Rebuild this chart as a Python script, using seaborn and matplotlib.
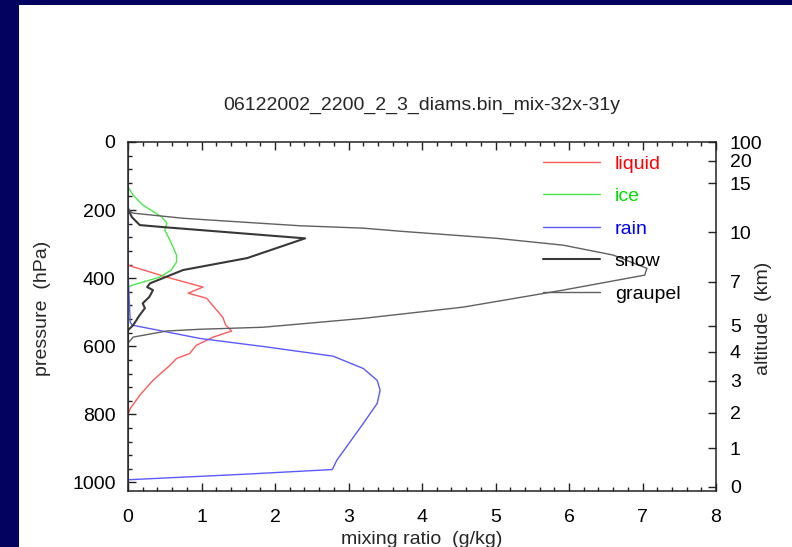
import numpy as np
import pandas as pd
import matplotlib
matplotlib.use("Agg")
import matplotlib.pyplot as plt
from matplotlib.patches import Rectangle
from matplotlib.ticker import MultipleLocator
import seaborn as sns

# pressure (hPa) / mixing ratio (g/kg) profiles
liquid_p = [0, 362, 397, 426, 444, 459, 515, 538, 555, 573, 597, 621, 636, 656, 700, 744, 783, 800, 1000]
liquid_q = [0, 0, 0.53, 1.02, 0.82, 1.07, 1.29, 1.33, 1.41, 1.16, 0.93, 0.84, 0.66, 0.57, 0.34, 0.16, 0.03, 0, 0]

ice_p = [0, 132, 156, 185, 220, 238, 259, 288, 332, 353, 376, 397, 420, 426, 1000]
ice_q = [0, 0, 0.07, 0.20, 0.46, 0.53, 0.50, 0.57, 0.66, 0.66, 0.59, 0.43, 0.07, 0, 0]

rain_p = [0, 380, 530, 538, 577, 602, 629, 665, 700, 729, 768, 827, 935, 962, 976, 992, 1000]
rain_q = [0, 0.0, 0.03, 0.06, 0.98, 1.89, 2.79, 3.20, 3.39, 3.43, 3.39, 3.20, 2.84, 2.78, 1.56, 0, 0]

snow_p = [0, 194, 220, 244, 250, 283, 341, 376, 415, 426, 435, 455, 474, 488, 508, 538, 553, 1000]
snow_q = [0, 0, 0.05, 0.16, 0.48, 2.41, 1.62, 0.75, 0.30, 0.26, 0.34, 0.29, 0.20, 0.23, 0.16, 0.07, 0, 0]

graupel_p = [0, 200, 209, 224, 233, 246, 253, 262, 283, 303, 332, 371, 391, 435, 485, 518, 544, 550, 555, 573, 591, 1000]
graupel_q = [0, 0, 0.07, 0.75, 1.39, 2.34, 3.20, 3.70, 5.02, 5.92, 6.60, 7.06, 7.03, 5.92, 4.56, 3.20, 1.84, 0.98, 0.53, 0.07, 0, 0]

species = ["liquid", "ice", "rain", "snow", "graupel"]
line_colors = ["#ff5a5a", "#4ae84a", "#5a5aff", "#383838", "#606060"]
line_widths = [1.0, 1.0, 1.0, 1.5, 1.0]
text_colors = ["#ff0000", "#00e000", "#0000ff", "black", "black"]

alt_ticks = [0, 1, 2, 3, 4, 5, 7, 10, 15, 20, 100]


def std_pressure(h_km):
    h = h_km * 1000.0
    if h <= 11000:
        return 1013.25 * (1 - 2.25577e-5 * h) ** 5.25588
    return 226.32 * np.exp(-(h - 11000) / 6341.6)


frames = []
for name, p, q in zip(species,
                      [liquid_p, ice_p, rain_p, snow_p, graupel_p],
                      [liquid_q, ice_q, rain_q, snow_q, graupel_q]):
    frames.append(pd.DataFrame({"q": q, "p": p, "species": name}))

sns.set_style("ticks")
plt.rcParams["font.family"] = ["Liberation Sans", "DejaVu Sans"]
plt.rcParams["font.size"] = 14

fig = plt.figure(figsize=(7.92, 5.47), dpi=100)
fig.patch.set_facecolor("#03035f")
fig.patches.append(Rectangle((19 / 792, 0), 1, 542 / 547, transform=fig.transFigure,
                             facecolor="white", edgecolor="none", zorder=-5))

ax = fig.add_axes([128 / 792, 1 - 491 / 547, 588 / 792, 349 / 547])
ax.set_facecolor("white")

for df, c, lw in zip(frames, line_colors, line_widths):
    sns.lineplot(data=df, x="q", y="p", sort=False, estimator=None, color=c,
                 linewidth=lw, label=df["species"].iloc[0], ax=ax)

ax.set_xlim(0, 8)
ax.set_ylim(1025, 0)
ax.xaxis.set_major_locator(MultipleLocator(1))
ax.xaxis.set_minor_locator(MultipleLocator(0.2))
ax.yaxis.set_major_locator(MultipleLocator(200))
ax.yaxis.set_minor_locator(MultipleLocator(40))
ax.tick_params(axis="x", which="both", direction="in", top=True, bottom=True, pad=13, colors="#222222", labelcolor="black")
ax.tick_params(axis="y", which="both", direction="in", left=True, right=False, pad=9, colors="#222222", labelcolor="black")
ax.tick_params(which="major", length=6, width=1)
ax.tick_params(which="minor", length=3, width=1)
for s in ax.spines.values():
    s.set_color("#222222")
    s.set_linewidth(1.1)

ax.set_xlabel("mixing ratio  (g/kg)")
ax.xaxis.set_label_coords(0.5, -0.14)
ax.xaxis.label.set_va("center")
ax.set_ylabel("pressure  (hPa)")
ax.yaxis.set_label_coords(-0.1446, 0.524)
ax.yaxis.label.set_va("center")
ax.set_title("06122002_2200_2_3_diams.bin_mix-32x-31y", y=1.106, va="center", pad=0, fontsize=14)

ax2 = ax.twinx()
ax2.set_ylim(1025, 0)
ax2.set_yticks([std_pressure(h) for h in alt_ticks])
ax2.set_yticklabels([str(h) for h in alt_ticks])
ax2.tick_params(axis="y", direction="in", length=6, width=1, pad=10, colors="#222222", labelcolor="black")
ax2.set_ylabel("altitude  (km)")
ax2.yaxis.set_label_coords(1.08, 0.496)
ax2.yaxis.label.set_va("center")
for s in ax2.spines.values():
    s.set_visible(False)

leg = ax.legend(loc="upper left", bbox_to_anchor=(0.706, 0.963), frameon=False,
                handlelength=2.93, handletextpad=0.75, labelspacing=0.77,
                borderaxespad=0, borderpad=0, labelcolor=text_colors, fontsize=14)

fig.savefig("out.png", dpi=100, facecolor=fig.get_facecolor())
